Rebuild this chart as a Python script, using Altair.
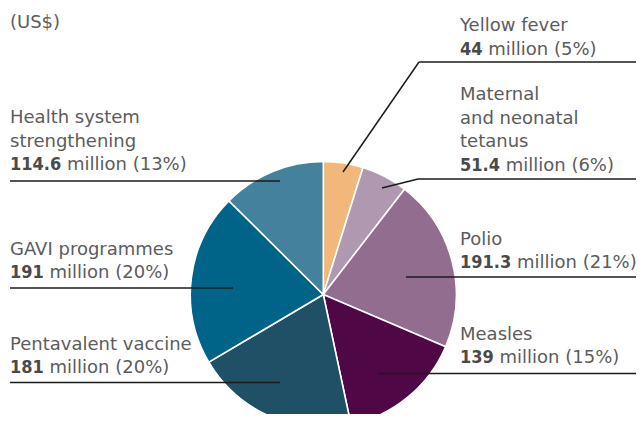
import altair as alt
import pandas as pd

# ---- data ----
categories = ["Yellow fever", "Maternal and neonatal tetanus", "Polio", "Measles",
              "Pentavalent vaccine", "GAVI programmes", "Health system strengthening"]
values = [44, 51.4, 191.3, 139, 181, 191, 114.6]
value_labels = ["44", "51.4", "191.3", "139", "181", "191", "114.6"]
percents = [5, 6, 21, 15, 20, 20, 13]
name_lines = [["Yellow fever"], ["Maternal", "and neonatal", "tetanus"], ["Polio"], ["Measles"],
              ["Pentavalent vaccine"], ["GAVI programmes"], ["Health system", "strengthening"]]
unit_title = "(US$)"

# ---- layout / style (page pixel coordinates) ----
colors = ["#F2B77A", "#AF98B0", "#936D8F", "#4F0745", "#1F5066", "#006489", "#44819C"]
pie_center = (323.3, 294.5)
pie_radius = 133
label_x = [460, 460, 460, 460, 10, 10, 10]
label_last_baseline = [54.5, 170.5, 268, 363, 373, 278, 170]
line_step = 23.5
unit_pos = (10, 28)
leader_segments = [  # (x, y, x2, y2)
    (343, 172, 419, 62), (419, 62, 641, 62),
    (382, 188, 418, 179), (418, 179, 641, 179),
    (406, 277, 641, 277),
    (378, 373.5, 641, 373.5),
    (10, 382.5, 280, 382.5),
    (10, 288, 233, 288),
    (10, 181, 280, 181),
]
FONT = "DejaVu Sans"
BOLD_FONT = "DejaVu Sans Condensed, DejaVu Sans"
FS = 18
W, H = 628, 406
xs = alt.Scale(domain=[8, 8 + W], range=[0, W])
ys = alt.Scale(domain=[8, 8 + H], range=[0, H])

# bold-number width estimate (DejaVu Sans Condensed Bold metrics)
def bold_width(s):
    w = 0.0
    for ch in s:
        w += 0.343 if ch == "." else 0.626
    return w * FS

# ---- tables ----
pie_df = pd.DataFrame({
    "category": categories, "value": values, "idx": list(range(len(values))),
    "cx": [pie_center[0]] * len(values), "cy": [pie_center[1]] * len(values),
})

name_rows, bold_rows, reg_rows = [], [], []
for i, cat in enumerate(categories):
    lines = name_lines[i]
    last = label_last_baseline[i]
    n = len(lines)
    for j, ln in enumerate(lines):
        name_rows.append({"x": label_x[i], "y": last - (n - j) * line_step, "t": ln})
    bold_rows.append({"x": label_x[i], "y": last, "t": value_labels[i]})
    reg_rows.append({"x": label_x[i] + bold_width(value_labels[i]) + 0.318 * FS,
                     "y": last, "t": f"million ({percents[i]}%)"})
name_rows.append({"x": unit_pos[0], "y": unit_pos[1], "t": unit_title})

seg_df = pd.DataFrame(leader_segments, columns=["x", "y", "x2", "y2"])

pie = alt.Chart(pie_df).mark_arc(
    outerRadius=pie_radius, stroke="white", strokeWidth=1.6
).encode(
    theta=alt.Theta("value:Q", stack=True),
    order=alt.Order("idx:Q"),
    color=alt.Color("category:N", scale=alt.Scale(domain=categories, range=colors), legend=None),
    x=alt.X("cx:Q", scale=xs, axis=None),
    y=alt.Y("cy:Q", scale=ys, axis=None),
)

lines = alt.Chart(seg_df).mark_rule(color="#1b1b1b", strokeWidth=1.5).encode(
    x=alt.X("x:Q", scale=xs, axis=None), y=alt.Y("y:Q", scale=ys, axis=None),
    x2="x2:Q", y2="y2:Q",
)

def text_layer(rows, font, weight, color):
    return alt.Chart(pd.DataFrame(rows)).mark_text(
        align="left", baseline="alphabetic", font=font, fontSize=FS,
        fontWeight=weight, color=color,
    ).encode(
        x=alt.X("x:Q", scale=xs, axis=None), y=alt.Y("y:Q", scale=ys, axis=None),
        text="t:N",
    )

chart = alt.layer(
    pie, lines,
    text_layer(name_rows, FONT, "normal", "#5c5c5c"),
    text_layer(bold_rows, BOLD_FONT, "bold", "#4a4a4a"),
    text_layer(reg_rows, FONT, "normal", "#5c5c5c"),
).properties(
    width=W, height=H, padding=0,
    autosize=alt.AutoSizeParams(type="none"),
).configure_view(stroke=None)

chart.save("out.html", embed_options={"renderer": "svg", "actions": False})
